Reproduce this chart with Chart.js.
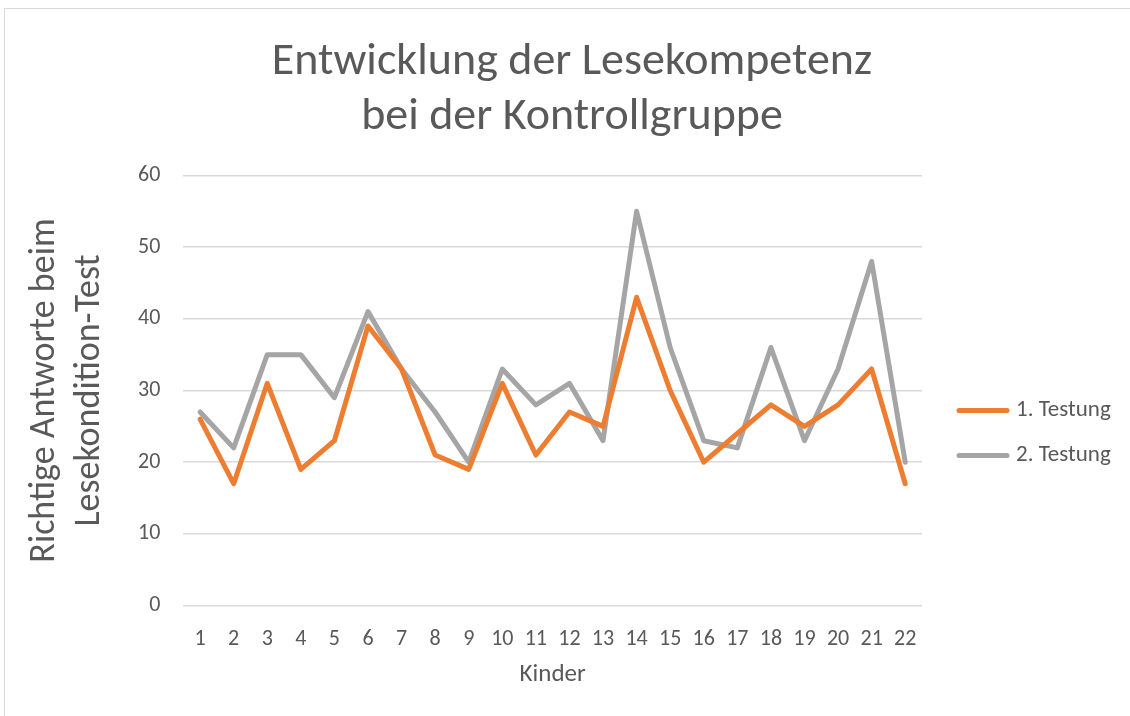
<!DOCTYPE html>
<html lang="de">
<head>
    <meta charset="UTF-8">
    <title>Entwicklung der Lesekompetenz</title>
    <script src="https://cdn.jsdelivr.net/npm/chart.js"></script>
    <style>
        body {
            margin: 0;
            background: #fff;
        }
        .frame {
            position: absolute;
            left: 4px;
            top: 8px;
            width: 1140px;
            height: 730px;
            border: 1px solid #d9d9d9;
        }
        .chart-box {
            position: absolute;
            left: 0;
            top: 0;
            width: 1130px;
            height: 716px;
        }
    </style>
</head>
<body>
    <div class="frame"></div>
    <div class="chart-box">
        <canvas id="lineChart"></canvas>
    </div>

    <script>
        // Werte
        const kinder = ['1', '2', '3', '4', '5', '6', '7', '8', '9', '10', '11',
                        '12', '13', '14', '15', '16', '17', '18', '19', '20', '21', '22'];
        const testung1 = [26, 17, 31, 19, 23, 39, 33, 21, 19, 31, 21, 27, 25, 43, 30, 20, 24, 28, 25, 28, 33, 17];
        const testung2 = [27, 22, 35, 35, 29, 41, 33, 27, 20, 33, 28, 31, 23, 55, 36, 23, 22, 36, 23, 33, 48, 20];
        const seriesNames = ['1. Testung', '2. Testung'];

        const textColor = '#595959';
        const fontFamily = "Carlito, Calibri, Lato, sans-serif";

        // Legende rechts neben dem Diagramm, wie in Excel (Linie + Text)
        const sideLegend = {
            id: 'sideLegend',
            afterDraw(chart) {
                const c = chart.ctx;
                const area = chart.chartArea;
                const mid = (area.top + area.bottom) / 2;
                const x0 = area.right + 37;
                c.save();
                c.font = '23px ' + fontFamily;
                c.textBaseline = 'middle';
                c.textAlign = 'left';
                chart.data.datasets.forEach(function (ds, i) {
                    const y = mid + 20 + i * 45;
                    c.strokeStyle = ds.borderColor;
                    c.lineWidth = 5;
                    c.lineCap = 'round';
                    c.beginPath();
                    c.moveTo(x0, y);
                    c.lineTo(x0 + 48, y);
                    c.stroke();
                    c.fillStyle = textColor;
                    c.fillText(ds.label, x0 + 57, y);
                });
                c.restore();
            }
        };

        const ctx = document.getElementById('lineChart').getContext('2d');
        new Chart(ctx, {
            type: 'line',
            data: {
                labels: kinder,
                datasets: [{
                    label: seriesNames[0],
                    data: testung1,
                    borderColor: '#ED7D31',
                    backgroundColor: '#ED7D31',
                    borderWidth: 5,
                    pointRadius: 0,
                    borderCapStyle: 'round',
                    borderJoinStyle: 'round'
                }, {
                    label: seriesNames[1],
                    data: testung2,
                    borderColor: '#A5A5A5',
                    backgroundColor: '#A5A5A5',
                    borderWidth: 5,
                    pointRadius: 0,
                    borderCapStyle: 'round',
                    borderJoinStyle: 'round'
                }]
            },
            options: {
                responsive: true,
                maintainAspectRatio: false,
                animation: false,
                layout: {
                    padding: { left: 22, right: 8, top: 0, bottom: 26 }
                },
                scales: {
                    x: {
                        offset: true,
                        grid: { display: false },
                        border: { display: false },
                        ticks: {
                            color: textColor,
                            font: { family: fontFamily, size: 22 },
                            maxRotation: 0,
                            autoSkip: false,
                            padding: 13
                        },
                        title: {
                            display: true,
                            text: 'Kinder',
                            color: textColor,
                            font: { family: fontFamily, size: 25 },
                            padding: { top: -6, bottom: 0 }
                        }
                    },
                    y: {
                        min: 0,
                        max: 60,
                        ticks: {
                            stepSize: 10,
                            color: textColor,
                            font: { family: fontFamily, size: 22 },
                            padding: 23
                        },
                        grid: {
                            color: '#d9d9d9',
                            lineWidth: 1.5,
                            drawTicks: false
                        },
                        border: { display: false },
                        title: {
                            display: true,
                            text: ['Richtige Antworte beim', 'Lesekondition-Test'],
                            color: textColor,
                            font: { family: fontFamily, size: 36, lineHeight: 1.25 },
                            padding: { top: 0, bottom: 3 }
                        }
                    },
                    // leere Achse rechts, nur um Platz für die Legende zu lassen
                    legendSpace: {
                        position: 'right',
                        grid: { display: false },
                        border: { display: false },
                        ticks: { display: false },
                        afterFit(scale) {
                            scale.width = 200;
                        }
                    }
                },
                plugins: {
                    title: {
                        display: true,
                        text: ['Entwicklung der Lesekompetenz', 'bei der Kontrollgruppe'],
                        color: textColor,
                        font: { family: fontFamily, size: 46, weight: 'normal', lineHeight: 1.2 },
                        padding: { top: 35, bottom: 30 }
                    },
                    legend: { display: false },
                    tooltip: { enabled: false }
                }
            },
            plugins: [sideLegend]
        });
    </script>
</body>
</html>
